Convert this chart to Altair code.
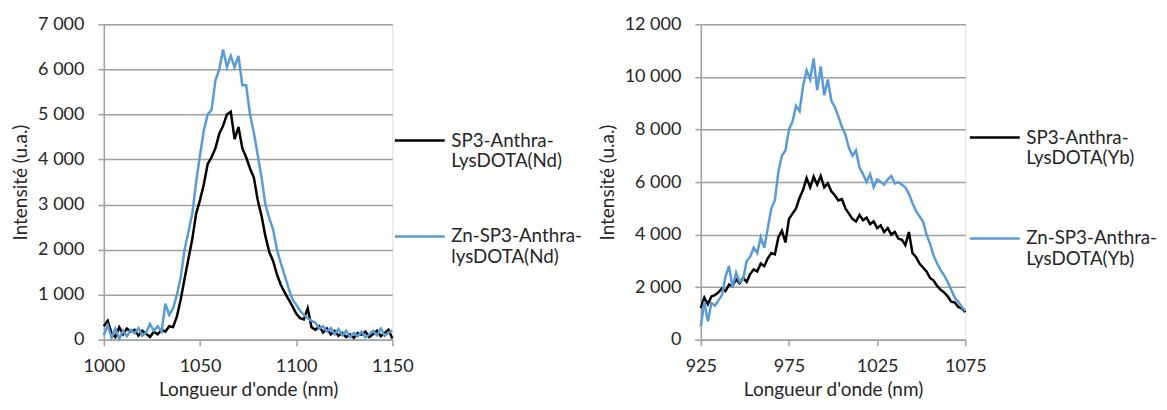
import altair as alt
import pandas as pd

# ---------------- Left panel (Nd) ----------------
nd_nm = list(range(1000, 1151, 2))
nd_sp3 = [300, 420, 150, 60, 280, 120, 250, 180, 220, 90,
          200, 130, 60, 180, 120, 220, 180, 300, 280, 520,
          900, 1360, 1800, 2240, 2800, 3100, 3450, 3900, 4050, 4250,
          4570, 4750, 5000, 5060, 4450, 4720, 4250, 4050, 3800, 3600,
          3100, 2750, 2300, 1950, 1750, 1450, 1220, 1050, 900, 750,
          580, 480, 450, 700, 280, 220, 300, 160, 250, 120,
          200, 90, 150, 60, 120, 40, 150, 110, 180, 60,
          120, 200, 80, 150, 220, 30]
nd_zn = [100, 320, 50, 250, 20, 200, 80, 220, 140, 260,
         90, 160, 350, 200, 300, 180, 800, 550, 700, 1000,
         1400, 2000, 2400, 2800, 3500, 4100, 4650, 5000, 5100, 5750,
         6000, 6440, 6050, 6300, 6050, 6300, 5650, 5650, 5000, 4600,
         4100, 3600, 3000, 2700, 2450, 2000, 1700, 1430, 1150, 900,
         780, 650, 550, 480, 420, 380, 250, 300, 180, 260,
         120, 240, 100, 200, 60, 150, 80, 180, 50, 120,
         200, 100, 250, 90, 160, 200]
nd_names = ["SP3-Anthra-LysDOTA(Nd)", "Zn-SP3-Anthra-lysDOTA(Nd)"]
nd_xticks = [1000, 1050, 1100, 1150]
nd_yticks = [0, 1000, 2000, 3000, 4000, 5000, 6000, 7000]

# ---------------- Right panel (Yb) ----------------
yb_nm = list(range(925, 1076, 2))
yb_sp3 = [1200, 1600, 1350, 1650, 1700, 1800, 1950, 1850, 2100, 2050,
          2300, 2150, 2350, 2200, 2500, 2680, 2600, 2900, 2800, 3100,
          3300, 3250, 3900, 4150, 3700, 4600, 4800, 5000, 5400, 5700,
          6150, 5800, 6200, 5900, 6230, 5800, 5950, 5650, 5500, 5300,
          5350, 5000, 4800, 4600, 4500, 4750, 4550, 4650, 4400, 4500,
          4250, 4350, 4100, 4250, 4000, 4100, 3850, 3800, 3600, 4100,
          3300, 3150, 2900, 2750, 2600, 2350, 2250, 2050, 1900, 1800,
          1650, 1450, 1420, 1250, 1200, 1050]
yb_zn = [500, 1450, 700, 1400, 1300, 1500, 1700, 2400, 2800, 2000,
         2550, 2200, 2300, 3000, 3150, 3500, 3300, 3900, 3500, 4250,
         5000, 5300, 6400, 7000, 7200, 8000, 8300, 8900, 8700, 9650,
         10250, 9900, 10700, 9500, 10400, 9300, 9900, 9100, 8850, 8500,
         8100, 7800, 7300, 7000, 7200, 6550, 6300, 6000, 6300, 5800,
         6100, 6000, 5900, 6100, 6230, 5950, 6000, 5900, 5800, 5550,
         5200, 4900, 4700, 4500, 4000, 3650, 3200, 2900, 2650, 2450,
         2200, 1900, 1600, 1450, 1250, 1100]
yb_names = ["SP3-Anthra-LysDOTA(Yb)", "Zn-SP3-Anthra-LysDOTA(Yb)"]
yb_xticks = [925, 975, 1025, 1075]
yb_yticks = [0, 2000, 4000, 6000, 8000, 10000, 12000]

COLORS = ["#000000", "#5B9BD5"]
FONT = "Lato"
TXT = "#262626"
GRID = "#a0a0a0"
LBL = 18
TTL = 19
LEG = 18.8


def long_df(nm, s1, s2, names):
    rows = []
    for name, vals in [(names[0], s1), (names[1], s2)]:
        for x, v in zip(nm, vals):
            rows.append({"nm": x, "val": v, "series": name})
    return pd.DataFrame(rows)


def panel(df, names, xdom, xticks, ydom, yticks, w, h, legx, legy, rowpad):
    return alt.Chart(df).mark_line(strokeWidth=2.5).encode(
        x=alt.X("nm:Q", scale=alt.Scale(domain=xdom, nice=False, zero=False),
                axis=alt.Axis(values=xticks, title="Longueur d'onde (nm)", grid=False,
                              domainColor=GRID, domainWidth=1.5, tickColor=GRID, tickWidth=1.5,
                              tickSize=6, labelPadding=12, titlePadding=5, format="d",
                              labelFlush=False, labelOverlap=False,
                              labelFontSize=LBL, titleFontSize=TTL, labelColor=TXT, titleColor=TXT,
                              labelFont=FONT, titleFont=FONT, titleFontWeight="normal")),
        y=alt.Y("val:Q", scale=alt.Scale(domain=ydom, nice=False),
                axis=alt.Axis(values=yticks, title="Intensité (u.a.)", grid=True, gridColor=GRID,
                              gridWidth=1.5, domainColor=GRID, domainWidth=1.5, tickColor=GRID,
                              tickWidth=1.5, tickSize=6, labelPadding=14, titlePadding=7,
                              labelFlush=False, labelOverlap=False,
                              labelExpr="replace(format(datum.value, ','), ',', ' ')",
                              labelFontSize=LBL, titleFontSize=TTL, labelColor=TXT, titleColor=TXT,
                              labelFont=FONT, titleFont=FONT, titleFontWeight="normal")),
        color=alt.Color("series:N", scale=alt.Scale(domain=names, range=COLORS),
                        legend=alt.Legend(title=None, orient="none", legendX=legx, legendY=legy,
                                          padding=0,
                                          symbolType="stroke", symbolSize=2500, symbolStrokeWidth=2.5,
                                          labelFontSize=LEG, labelFont=FONT, labelColor=TXT,
                                          labelLimit=300, rowPadding=rowpad, labelOffset=5,
                                          labelExpr="split(replace(datum.label, 'Anthra-', 'Anthra-|'), '|')")),
    ).properties(width=w, height=h)


left = panel(long_df(nd_nm, nd_sp3, nd_zn, nd_names), nd_names, [1000, 1150], nd_xticks,
             [0, 7000], nd_yticks, 289, 316, 290, 90, 38)
right = panel(long_df(yb_nm, yb_sp3, yb_zn, yb_names), yb_names, [925, 1075], yb_xticks,
              [0, 12000], yb_yticks, 265, 316, 268, 87, 43)

chart = alt.hconcat(left, right, spacing=13).resolve_scale(color="independent").resolve_legend(
    color="independent").configure_view(stroke=None).configure(
    background="white", padding={"left": 3, "top": 6, "right": 0, "bottom": 0})

chart.save("out.html", embed_options={"renderer": "svg", "actions": False})
